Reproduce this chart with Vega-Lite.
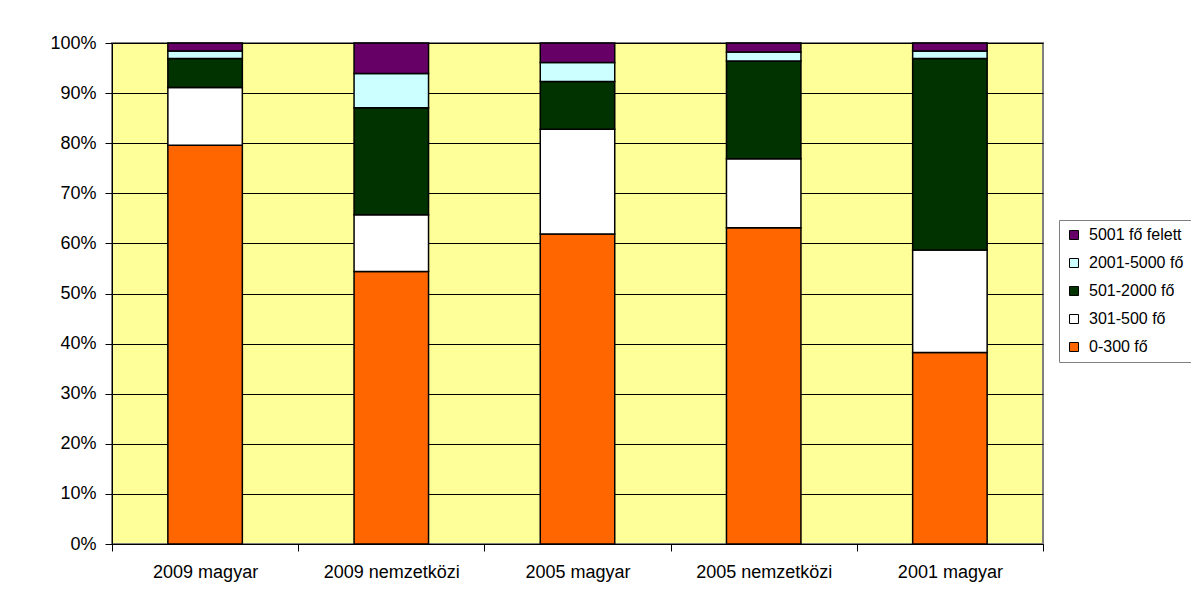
{
  "$schema": "https://vega.github.io/schema/vega-lite/v6.json",
  "width": 931,
  "height": 501,
  "autosize": "none",
  "padding": {"left": 112, "top": 43, "right": 148, "bottom": 54},
  "background": "#FFFFFF",
  "data": {
    "values": [
      {"ev": "2009 magyar", "kategoria": "0-300 fő", "sor": 1, "arany": 0.796},
      {"ev": "2009 magyar", "kategoria": "301-500 fő", "sor": 2, "arany": 0.115},
      {"ev": "2009 magyar", "kategoria": "501-2000 fő", "sor": 3, "arany": 0.058},
      {"ev": "2009 magyar", "kategoria": "2001-5000 fő", "sor": 4, "arany": 0.015},
      {"ev": "2009 magyar", "kategoria": "5001 fő felett", "sor": 5, "arany": 0.016},
      {"ev": "2009 nemzetközi", "kategoria": "0-300 fő", "sor": 1, "arany": 0.544},
      {"ev": "2009 nemzetközi", "kategoria": "301-500 fő", "sor": 2, "arany": 0.113},
      {"ev": "2009 nemzetközi", "kategoria": "501-2000 fő", "sor": 3, "arany": 0.214},
      {"ev": "2009 nemzetközi", "kategoria": "2001-5000 fő", "sor": 4, "arany": 0.068},
      {"ev": "2009 nemzetközi", "kategoria": "5001 fő felett", "sor": 5, "arany": 0.061},
      {"ev": "2005 magyar", "kategoria": "0-300 fő", "sor": 1, "arany": 0.619},
      {"ev": "2005 magyar", "kategoria": "301-500 fő", "sor": 2, "arany": 0.209},
      {"ev": "2005 magyar", "kategoria": "501-2000 fő", "sor": 3, "arany": 0.095},
      {"ev": "2005 magyar", "kategoria": "2001-5000 fő", "sor": 4, "arany": 0.038},
      {"ev": "2005 magyar", "kategoria": "5001 fő felett", "sor": 5, "arany": 0.039},
      {"ev": "2005 nemzetközi", "kategoria": "0-300 fő", "sor": 1, "arany": 0.631},
      {"ev": "2005 nemzetközi", "kategoria": "301-500 fő", "sor": 2, "arany": 0.138},
      {"ev": "2005 nemzetközi", "kategoria": "501-2000 fő", "sor": 3, "arany": 0.195},
      {"ev": "2005 nemzetközi", "kategoria": "2001-5000 fő", "sor": 4, "arany": 0.018},
      {"ev": "2005 nemzetközi", "kategoria": "5001 fő felett", "sor": 5, "arany": 0.018},
      {"ev": "2001 magyar", "kategoria": "0-300 fő", "sor": 1, "arany": 0.382},
      {"ev": "2001 magyar", "kategoria": "301-500 fő", "sor": 2, "arany": 0.205},
      {"ev": "2001 magyar", "kategoria": "501-2000 fő", "sor": 3, "arany": 0.382},
      {"ev": "2001 magyar", "kategoria": "2001-5000 fő", "sor": 4, "arany": 0.015},
      {"ev": "2001 magyar", "kategoria": "5001 fő felett", "sor": 5, "arany": 0.016}
    ]
  },
  "mark": {"type": "bar", "stroke": "#000000", "strokeWidth": 1.5, "width": {"band": 0.4}},
  "encoding": {
    "x": {
      "field": "ev",
      "type": "nominal",
      "sort": ["2009 magyar", "2009 nemzetközi", "2005 magyar", "2005 nemzetközi", "2001 magyar"],
      "scale": {"paddingInner": 0, "paddingOuter": 0},
      "axis": {
        "title": null,
        "labelAngle": 0,
        "tickBand": "extent",
        "tickSize": 7,
        "labelPadding": 12,
        "grid": false
      }
    },
    "y": {
      "field": "arany",
      "type": "quantitative",
      "stack": "normalize",
      "scale": {"domain": [0, 1], "nice": false},
      "axis": {
        "title": null,
        "format": ".0%",
        "values": [0, 0.1, 0.2, 0.3, 0.4, 0.5, 0.6, 0.7, 0.8, 0.9, 1],
        "tickSize": 7,
        "labelPadding": 9,
        "grid": true
      }
    },
    "color": {
      "field": "kategoria",
      "type": "nominal",
      "scale": {
        "domain": ["5001 fő felett", "2001-5000 fő", "501-2000 fő", "301-500 fő", "0-300 fő"],
        "range": ["#660066", "#CCFFFF", "#003300", "#FFFFFF", "#FF6600"]
      },
      "legend": {
        "title": null,
        "orient": "none",
        "legendX": 947,
        "legendY": 177,
        "padding": 7,
        "strokeColor": "#808080",
        "fillColor": "#FFFFFF",
        "symbolType": "square",
        "symbolSize": 81,
        "symbolStrokeColor": "#000000",
        "symbolStrokeWidth": 1,
        "symbolOpacity": 1,
        "labelFontSize": 16,
        "labelFont": "Liberation Sans",
        "labelColor": "#000000",
        "labelOffset": 7,
        "rowPadding": 12
      }
    },
    "order": {"field": "sor", "type": "quantitative"}
  },
  "config": {
    "view": {"fill": "#FFFF99", "stroke": "#808080", "strokeWidth": 2},
    "axis": {
      "labelFont": "Liberation Sans",
      "labelFontSize": 18,
      "labelColor": "#000000",
      "domainColor": "#000000",
      "tickColor": "#000000",
      "gridColor": "#000000",
      "gridOpacity": 1,
      "gridWidth": 1
    }
  }
}
